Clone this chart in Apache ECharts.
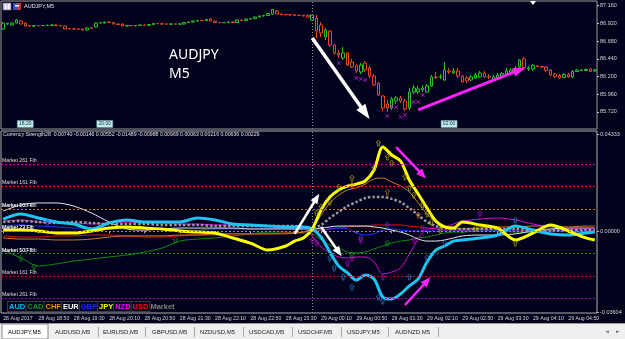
<!DOCTYPE html>
<html><head><meta charset="utf-8">
<script src="https://cdn.jsdelivr.net/npm/echarts@6/dist/echarts.min.js"></script>
<style>html,body{margin:0;padding:0;background:#02021c;}#c{width:625px;height:339px;}</style>
</head><body><div id="c"></div>
<script>
// ---------- DATA ----------
// AUDJPY M5 candles [open, close, low, high], first bar 28 Aug 18:10
const candles = [
[86.844,86.925,86.831,86.939],[86.912,86.919,86.898,86.925],[86.898,86.925,86.891,86.932],[86.925,86.966,86.919,86.980],
[86.952,86.912,86.905,86.966],[86.925,86.885,86.878,86.932],[86.891,86.885,86.878,86.898],[86.885,86.891,86.871,86.898],
[86.891,86.889,86.885,86.898],[86.889,86.891,86.885,86.898],[86.891,86.895,86.885,86.905],[86.895,86.898,86.891,86.905],
[86.898,86.891,86.885,86.905],[86.891,86.889,86.878,86.898],[86.885,86.844,86.837,86.891],[86.851,86.848,86.837,86.858],
[86.848,86.844,86.837,86.851],[86.844,86.842,86.831,86.851],[86.842,86.831,86.824,86.848],[86.831,86.858,86.824,86.865],
[86.858,86.851,86.844,86.865],[86.871,86.925,86.864,86.932],[86.925,86.932,86.919,86.939],[86.925,86.939,86.919,86.946],
[86.939,86.932,86.925,86.946],[86.932,86.912,86.905,86.939],[86.912,86.905,86.898,86.919],[86.912,86.885,86.878,86.919],
[86.885,86.891,86.878,86.898],[86.891,86.889,86.885,86.898],[86.889,86.891,86.878,86.898],[86.891,86.898,86.885,86.905],
[86.898,86.895,86.891,86.905],[86.895,86.905,86.891,86.912],[86.905,86.919,86.898,86.925],[86.919,86.915,86.912,86.925],
[86.915,86.912,86.905,86.919],[86.912,86.910,86.905,86.919],[86.910,86.912,86.905,86.919],[86.912,86.910,86.905,86.919],
[86.910,86.912,86.905,86.919],[86.912,86.932,86.905,86.939],[86.932,86.939,86.925,86.946],[86.939,86.952,86.932,86.959],
[86.952,86.959,86.946,86.966],[86.959,86.957,86.952,86.966],[86.957,86.973,86.952,86.980],[86.980,86.952,86.946,86.986],
[86.952,86.932,86.925,86.959],[86.932,86.930,86.925,86.939],[86.930,86.932,86.925,86.939],[86.932,86.939,86.925,86.946],
[86.939,86.932,86.925,86.946],[86.932,86.966,86.925,86.973],[86.966,86.959,86.952,86.973],[86.959,86.980,86.952,86.986],
[86.980,86.984,86.973,86.993],[86.984,87.007,86.980,87.013],[87.007,87.020,87.000,87.027],[87.020,87.027,87.013,87.034],
[87.027,87.054,87.020,87.061],[87.047,87.108,87.041,87.115],[87.088,87.047,87.041,87.102],[87.047,87.041,87.034,87.054],
[87.041,87.038,87.030,87.047],[87.038,87.036,87.030,87.047],[87.038,87.030,87.020,87.041],[87.030,87.028,87.020,87.038],
[87.030,87.020,87.013,87.034],[87.030,87.007,87.000,87.034],[86.966,87.034,86.959,87.041],
[86.993,86.817,86.722,87.034],[86.898,86.790,86.736,86.939],[86.736,86.831,86.695,86.858],[86.817,86.627,86.600,86.831],
[86.627,86.519,86.492,86.641],[86.519,86.492,86.451,86.560],[86.451,86.519,86.424,86.600],[86.519,86.356,86.343,86.532],
[86.397,86.329,86.316,86.438],[86.343,86.275,86.248,86.370],[86.261,86.356,86.234,86.383],[86.383,86.289,86.261,86.410],
[86.316,86.207,86.180,86.343],[86.207,86.085,86.072,86.234],[86.112,85.950,85.936,86.126],[85.936,85.774,85.733,85.950],
[85.828,85.774,85.720,85.882],[85.774,85.896,85.747,85.923],[85.868,85.909,85.828,85.936],[85.909,85.868,85.841,85.936],
[85.868,85.760,85.733,85.896],[85.774,85.990,85.747,86.045],[85.990,86.045,85.963,86.085],[85.990,86.031,85.963,86.072],
[86.018,86.045,85.990,86.085],[85.990,86.072,85.977,86.099],[86.072,86.194,86.058,86.221],[86.194,86.187,86.166,86.261],
[86.194,86.200,86.166,86.234],[86.153,86.289,86.139,86.397],[86.275,86.261,86.234,86.316],[86.248,86.275,86.234,86.316],
[86.275,86.207,86.180,86.316],[86.207,86.126,86.112,86.221],[86.180,86.139,86.112,86.207],[86.153,86.194,86.139,86.221],
[86.180,86.221,86.166,86.248],[86.194,86.248,86.180,86.275],[86.248,86.194,86.180,86.275],[86.200,86.194,86.166,86.234],
[86.153,86.194,86.139,86.221],[86.180,86.221,86.166,86.248],[86.207,86.241,86.194,86.261],[86.234,86.275,86.221,86.316],
[86.261,86.289,86.248,86.316],[86.275,86.316,86.261,86.343],[86.329,86.424,86.316,86.438],[86.438,86.316,86.289,86.465],
[86.302,86.316,86.275,86.343],[86.302,86.350,86.275,86.370],[86.343,86.336,86.329,86.356],[86.336,86.329,86.316,86.343],
[86.329,86.282,86.261,86.343],[86.289,86.221,86.207,86.302],[86.234,86.200,86.180,86.248],[86.214,86.180,86.166,86.234],
[86.187,86.228,86.180,86.248],[86.228,86.194,86.180,86.248],[86.194,86.268,86.180,86.289],[86.268,86.289,86.261,86.302],
[86.282,86.289,86.275,86.302],[86.282,86.295,86.275,86.309],[86.302,86.268,86.261,86.316],[86.275,86.289,86.268,86.302]
];
const firstBarMinutes = 18 * 60 + 10;
const barTimes = candles.map((c, i) => {
  const m = (firstBarMinutes + 5 * i) % 1440;
  return String(Math.floor(m / 60)).padStart(2, '0') + ':' + String(m % 60).padStart(2, '0');
});
const tickLabels = ['28 Aug 2017','28 Aug 18:50','28 Aug 19:30','28 Aug 20:10','28 Aug 20:50','28 Aug 21:30','28 Aug 22:10','28 Aug 22:50','28 Aug 23:30','29 Aug 00:10','29 Aug 00:50','29 Aug 01:30','29 Aug 02:10','29 Aug 02:50','29 Aug 03:30','29 Aug 04:10','29 Aug 04:50'];
const priceTicks = [87.160, 86.920, 86.680, 86.440, 86.200, 85.960, 85.720];
const strengthTicks = [0.04333, 0, -0.03604];
const dayBreakBar = 70;

// magenta signal crosses on the price pane
const signalBars = [76,80,81,82,87,88,89,90,91,92,93,94,95];
const signalPrices = [86.383,86.180,86.166,86.153,85.665,85.801,85.787,85.652,85.679,85.923,85.855,85.855,85.950];

// currency strength, sampled at these bars
const lineBars = [0,4,8,12,16,20,24,28,32,36,40,44,48,52,56,60,64,66,68,70,72,74,76,78,80,82,84,86,88,90,92,94,96,98,100,102,104,108,112,116,120,124,128,132,134];
const AUD = [0.0054,0.0077,0.0059,0.0041,0.0032,0.0010,0.0037,0.0050,0.0041,0.0041,0.0041,0.0059,0.0050,0.0032,0.0028,0.0023,0.0019,0.0019,0.0019,0.0010,-0.0026,-0.0093,-0.0155,-0.0186,-0.0218,-0.0195,-0.0213,-0.0294,-0.0302,-0.0280,-0.0244,-0.0213,-0.0137,-0.0084,-0.0066,-0.0044,-0.0039,-0.0030,-0.0017,0.0023,0.0005,-0.0012,-0.0017,-0.0008,-0.0004];
const CAD = [-0.0084,-0.0119,-0.0155,-0.0146,-0.0133,-0.0124,-0.0115,-0.0106,-0.0093,-0.0075,-0.0044,-0.0035,-0.0030,-0.0021,-0.0012,-0.0004,-0.0004,-0.0008,-0.0008,-0.0012,-0.0039,-0.0062,-0.0075,-0.0093,-0.0097,-0.0093,-0.0079,-0.0066,-0.0053,-0.0044,-0.0039,-0.0030,-0.0026,-0.0017,-0.0008,-0.0004,-0.0004,0.0001,0.0001,-0.0004,-0.0004,0.0001,0.0001,-0.0004,-0.0004];
const CHF = [-0.0030,-0.0035,-0.0035,-0.0039,-0.0039,-0.0035,-0.0026,-0.0021,-0.0021,-0.0021,-0.0017,-0.0017,-0.0012,-0.0012,-0.0012,-0.0012,-0.0012,-0.0008,-0.0004,0.0014,0.0072,0.0126,0.0161,0.0184,0.0193,0.0210,0.0233,0.0237,0.0219,0.0202,0.0175,0.0126,0.0077,0.0041,0.0023,0.0014,0.0010,0.0014,0.0019,0.0019,0.0023,0.0023,0.0019,0.0023,0.0023];
const EUR = [0.0090,0.0117,0.0126,0.0126,0.0112,0.0081,0.0041,0.0010,0.0005,0.0010,0.0014,0.0014,0.0014,0.0014,0.0010,0.0010,0.0010,0.0010,0.0010,0.0010,0.0014,0.0019,0.0023,0.0023,0.0023,0.0023,0.0019,0.0014,0.0005,-0.0004,-0.0017,-0.0035,-0.0044,-0.0044,-0.0039,-0.0030,-0.0021,-0.0017,-0.0017,-0.0012,0.0001,0.0010,0.0014,0.0014,0.0014];
const GBP = [0.0023,0.0028,0.0023,0.0019,0.0014,0.0014,0.0010,0.0010,0.0014,0.0010,0.0005,0.0005,0.0010,0.0010,0.0010,0.0010,0.0010,0.0010,0.0010,0.0010,0.0005,0.0010,0.0014,0.0010,-0.0008,-0.0017,-0.0012,0.0005,0.0010,0.0005,0.0001,0.0001,0.0001,0.0001,0.0001,0.0001,0.0005,0.0005,0.0005,0.0001,0.0001,0.0001,0.0005,0.0005,0.0005];
const JPY = [0.0005,0.0005,0.0001,-0.0008,-0.0008,0.0001,0.0014,0.0019,0.0014,0.0010,0.0001,-0.0004,-0.0008,-0.0030,-0.0053,-0.0084,-0.0066,-0.0044,-0.0030,0.0010,0.0095,0.0152,0.0184,0.0201,0.0210,0.0224,0.0273,0.0375,0.0340,0.0313,0.0228,0.0166,0.0103,0.0045,0.0019,0.0014,0.0041,0.0028,0.0014,-0.0039,-0.0008,0.0028,0.0001,-0.0030,-0.0039];
const NZD = [0.0045,0.0050,0.0041,0.0037,0.0037,0.0032,0.0037,0.0041,0.0037,0.0037,0.0032,0.0032,0.0028,0.0028,0.0023,0.0023,0.0023,0.0019,0.0014,-0.0021,-0.0070,-0.0097,-0.0115,-0.0119,-0.0115,-0.0115,-0.0137,-0.0191,-0.0182,-0.0164,-0.0102,-0.0035,0.0010,0.0014,0.0019,0.0032,0.0045,0.0054,0.0059,0.0050,0.0032,0.0019,0.0014,0.0014,0.0014];
const USD = [-0.0021,-0.0026,-0.0026,-0.0021,-0.0021,-0.0017,-0.0017,-0.0021,-0.0026,-0.0026,-0.0021,-0.0017,-0.0017,-0.0012,-0.0012,-0.0012,-0.0008,-0.0008,-0.0004,0.0001,0.0005,0.0010,0.0014,0.0019,0.0023,0.0023,0.0028,0.0028,0.0028,0.0028,0.0023,0.0019,0.0014,0.0010,0.0005,0.0005,0.0005,0.0010,0.0010,0.0005,0.0001,0.0005,0.0010,0.0010,0.0010];
const MARKET = [0.0041,0.0046,0.0041,0.0037,0.0041,0.0037,0.0032,0.0032,0.0032,0.0028,0.0028,0.0028,0.0023,0.0023,0.0023,0.0023,0.0023,0.0023,0.0019,0.0014,0.0028,0.0059,0.0086,0.0112,0.0130,0.0148,0.0153,0.0153,0.0144,0.0130,0.0103,0.0072,0.0041,0.0023,0.0014,0.0010,0.0010,0.0010,0.0010,0.0010,0.0005,0.0005,0.0005,0.0005,0.0005];

// indicator arrow signals [bar, strength]
const jpyArrows = [[71,0.0081],[72,0.0108],[74,0.0130],[76,0.0197],[79,0.0237],[84,0.0282],[85,0.0393],[87,0.0331],[88,0.0304],[91,0.0242],[92,0.0193],[93,0.0161],[95,0.0117],[96,0.0077],[97,0.0041],[99,0.0005],[107,0.0014],[116,-0.0053]];
const audArrows = [[74,-0.0120],[75,-0.0164],[77,-0.0204],[79,-0.0249],[85,-0.0294],[86,-0.0311],[92,-0.0204],[96,-0.0120],[100,-0.0053],[116,0.0050]];
const nzdArrows = [[70,-0.0039],[71,-0.0053],[78,-0.0142],[79,-0.0120],[81,-0.0039],[86,-0.0204],[93,-0.0039],[95,0.0014],[108,0.0081]];
const chfArrows = [[79,0.0206],[87,0.0175],[94,0.0072]];
const cadArrows = [[4,-0.0120],[7,-0.0160],[39,-0.0039],[79,-0.0106],[87,-0.0053]];
const gbpArrows = [[10,0.0041],[81,-0.0030],[87,0.0028]];

// fib levels of the strength pane
const fibNames = ['Market 261 Fib','Market 161 Fib','Market 100 Fib','Market 50 Fib','Market 23 Fib','Market 23 Fib','Market 50 Fib','Market 100 Fib','Market 161 Fib','Market 261 Fib'];
const fibValues = [0.0270,0.0167,0.0103,0.0052,0.0024,-0.0024,-0.0052,-0.0103,-0.0167,-0.0270];

const strengthText = 'Currency Strength28  0.00740 -0.00146 0.00552 -0.01489 -0.00988 0.00969 0.00063 0.00216 0.00636 0.00229';
const tabNames = ['AUDJPY,M5','AUDUSD,M5','EURUSD,M5','GBPUSD,M5','NZDUSD,M5','USDCAD,M5','USDCHF,M5','USDJPY,M5','AUDNZD,M5'];

// ---------- STYLE ----------
const FONT = 'Liberation Sans';
const fibColors = ['#c800c8','#e01818','#20a020','#c87820','#a06a30','#c88020','#a05a14','#1a9a1a','#b01010','#9010b0'];
const UP_PATH = 'path://M5,0 L10,5 L7,5 L7,11 L3,11 L3,5 L0,5 Z';
const X_PATH = 'path://M1,0 L5,4 L9,0 L10,1 L6,5 L10,9 L9,10 L5,6 L1,10 L0,9 L4,5 L0,1 Z';

const chart = echarts.init(document.getElementById('c'), null, {renderer: 'canvas', width: 625, height: 339});

function strengthLine(name, values, color, width, extra) {
  return Object.assign({
    type: 'line', name, xAxisIndex: 1, yAxisIndex: 1,
    data: lineBars.map((b, k) => [b, values[k]]),
    showSymbol: false, smooth: 0.3, silent: true, clip: true,
    lineStyle: {color, width}, emphasis: {disabled: true}
  }, extra || {});
}
function arrowMarks(name, pts, color, extra) {
  return Object.assign({
    type: 'scatter', name, xAxisIndex: 1, yAxisIndex: 1, data: pts,
    symbol: UP_PATH, symbolSize: [4.5, 6], silent: true, z: 5,
    itemStyle: {color: 'transparent', borderColor: color, borderWidth: 0.8}
  }, extra || {});
}

const tabX = [8, 55, 103, 152, 200, 249, 298, 347, 395];
const sepX = [98, 145, 194, 243, 292, 341, 388, 438];

const graphic = [
  {type: 'rect', shape: {x: 0, y: 323, width: 625, height: 16}, style: {fill: '#efefef'}, silent: true},
  {type: 'line', shape: {x1: 0, y1: 323.5, x2: 625, y2: 323.5}, style: {stroke: '#9a9a9a', lineWidth: 1}, silent: true},
  {type: 'rect', shape: {x: 2, y: 324, width: 46, height: 15}, style: {fill: '#ffffff', stroke: '#8a8a8a', lineWidth: 1}, silent: true},
  ...tabNames.map((t, i) => ({type: 'text', x: tabX[i], y: 332, silent: true,
    style: {text: t, fill: i === 0 ? '#000000' : '#202020', fontSize: 6, fontFamily: FONT, verticalAlign: 'middle', align: 'left'}})),
  ...sepX.map(x => ({type: 'line', shape: {x1: x + 0.5, y1: 327, x2: x + 0.5, y2: 337}, style: {stroke: '#a8a8a8', lineWidth: 1}, silent: true})),
  {type: 'text', x: 605, y: 332, silent: true, style: {text: '◄', fill: '#707070', fontSize: 5, fontFamily: 'DejaVu Sans', verticalAlign: 'middle'}},
  {type: 'text', x: 616, y: 332, silent: true, style: {text: '►', fill: '#707070', fontSize: 5, fontFamily: 'DejaVu Sans', verticalAlign: 'middle'}},
  // window icons
  {type: 'rect', shape: {x: 3, y: 3, width: 8, height: 7}, style: {fill: '#d6c8e6', stroke: '#7a7aa8', lineWidth: 0.6}, silent: true},
  {type: 'rect', shape: {x: 5, y: 5, width: 1.5, height: 4}, style: {fill: '#ffffff'}, silent: true},
  {type: 'rect', shape: {x: 8, y: 4, width: 1.5, height: 5}, style: {fill: '#ffffff'}, silent: true},
  {type: 'rect', shape: {x: 13, y: 3, width: 4, height: 7}, style: {fill: '#3050d0'}, silent: true},
  {type: 'rect', shape: {x: 17, y: 3, width: 4, height: 7}, style: {fill: '#d03030'}, silent: true},
  {type: 'rect', shape: {x: 15, y: 5, width: 4, height: 1.5}, style: {fill: '#ffffff'}, silent: true}
];

const richLegend = {};
const legendItems = [['a','AUD','#00bfff'],['b','CAD','#109a10'],['c','CHF','#ff8a00'],['d','EUR','#ffffff'],['e','GBP','#1a2cff'],['f','JPY','#ffff00'],['g','NZD','#ff00ff'],['h','USD','#ff1010']];
legendItems.forEach(([k, , c]) => {
  richLegend[k] = {color: c, fontSize: 7.5, fontFamily: FONT, borderColor: '#3a3a4a', borderWidth: 1, padding: [1, 1, 0, 1], backgroundColor: '#04041e'};
});
richLegend.m = {color: '#808080', fontSize: 7.5, fontFamily: FONT, padding: [1, 1, 0, 1]};
const legendText = legendItems.map(([k, t]) => '{' + k + '|' + t + '}').join('') + '{m|Market}';

const option = {
  backgroundColor: '#02021c',
  animation: false,
  textStyle: {fontFamily: FONT},
  title: [
    {text: 'AUDJPY,M5', left: 24, top: 3, padding: 0, textStyle: {color: '#e6e6e6', fontSize: 5.5, fontWeight: 'normal', fontFamily: FONT}},
    {text: 'AUDJPY', left: 169, top: 48, padding: 0, textStyle: {color: '#ffffff', fontSize: 14, fontWeight: 'normal', fontFamily: 'Noto Sans'}},
    {text: 'M5', left: 169, top: 67, padding: 0, textStyle: {color: '#ffffff', fontSize: 14, fontWeight: 'normal', fontFamily: 'Noto Sans'}},
    {text: strengthText, left: 3, top: 132, padding: 0, textStyle: {color: '#e0e0e0', fontSize: 5.2, fontWeight: 'normal', fontFamily: FONT}},
    {text: legendText, left: 8, top: 302, padding: 0, textStyle: {rich: richLegend}}
  ],
  grid: [
    {left: 1, right: 28, top: 1, height: 128, show: true, borderColor: '#9a9a9a', borderWidth: 1, backgroundColor: 'transparent'},
    {left: 1, right: 28, top: 131, height: 182, show: true, borderColor: '#b0b0b0', borderWidth: 1, backgroundColor: 'transparent'}
  ],
  xAxis: [
    {type: 'category', gridIndex: 0, data: barTimes, boundaryGap: true, axisLine: {show: false}, axisTick: {show: false}, axisLabel: {show: false}, splitLine: {show: false}},
    {type: 'category', gridIndex: 1, data: barTimes, boundaryGap: true, axisLine: {show: false},
      axisTick: {show: true, interval: (i) => i % 8 === 0, alignWithLabel: true, length: 2, lineStyle: {color: '#c0c0c0'}},
      axisLabel: {show: true, interval: (i) => i % 8 === 0, formatter: (v, i) => tickLabels[i / 8] || '', align: 'left', margin: 3,
        color: '#d4d4d4', fontSize: 5.2, fontFamily: FONT, hideOverlap: false}, splitLine: {show: false}}
  ],
  yAxis: [
    {type: 'value', gridIndex: 0, position: 'right', min: 85.489, max: 87.2235, scale: true, splitLine: {show: false}, axisLine: {show: false},
      axisTick: {show: true, customValues: priceTicks, length: 2, lineStyle: {color: '#c0c0c0'}},
      axisLabel: {customValues: priceTicks, formatter: v => v.toFixed(3), color: '#d4d4d4', fontSize: 5.5, fontFamily: FONT, margin: 3}},
    {type: 'value', gridIndex: 1, position: 'right', min: -0.03647, max: 0.04468, splitLine: {show: false}, axisLine: {show: false},
      axisTick: {show: true, customValues: strengthTicks, length: 2, lineStyle: {color: '#c0c0c0'}},
      axisLabel: {customValues: strengthTicks, formatter: v => v.toFixed(5), color: '#d4d4d4', fontSize: 5.5, fontFamily: FONT, margin: 3}}
  ],
  graphic,
  series: [
    {
      type: 'candlestick', name: 'AUDJPY', xAxisIndex: 0, yAxisIndex: 0, data: candles, barWidth: 3, silent: true,
      itemStyle: {color: 'transparent', color0: 'transparent', borderColor: '#22c422', borderColor0: '#e8461e', borderWidth: 1},
      markLine: {silent: true, animation: false, symbol: 'none', label: {show: false},
        lineStyle: {color: '#8c8c8c', type: [1, 2], width: 1}, data: [{xAxis: dayBreakBar}]},
      markPoint: {silent: true, animation: false, data: [
        ...[[5, '18:20'], [23, '20:00'], [101, '02:00']].map(([b, t]) => ({name: t, coord: [b, 85.557], symbol: 'rect', symbolSize: [16, 7],
          itemStyle: {color: '#c6eef2', borderColor: '#6aa0a8', borderWidth: 0.5},
          label: {show: true, position: 'inside', formatter: '{b}', color: '#0a2a30', fontSize: 5, fontFamily: FONT}})),
        {name: 'shift', coord: [120, 87.196], symbol: 'triangle', symbolRotate: 180, symbolSize: [6, 4], itemStyle: {color: '#ffffff'}, label: {show: false}}
      ]}
    },
    {
      type: 'scatter', name: 'signals', xAxisIndex: 0, yAxisIndex: 0, silent: true, z: 4,
      data: signalBars.map((b, i) => [b, signalPrices[i]]), symbol: X_PATH, symbolSize: 4, itemStyle: {color: '#ff22ff'},
      markLine: {silent: true, animation: false, symbol: ['none', 'triangle'], label: {show: false}, data: [
        [{coord: [70, 86.722], lineStyle: {color: '#ffffff', width: 3.5, type: 'solid'}}, {coord: [82, 85.706], symbolSize: [11, 15]}],
        [{coord: [94, 85.747], lineStyle: {color: '#ff22ff', width: 3, type: 'solid'}}, {coord: [117, 86.289], symbolSize: [9, 13]}]
      ]}
    },
    strengthLine('CAD', CAD, '#108a10', 1),
    strengthLine('USD', USD, '#e01010', 1),
    strengthLine('GBP', GBP, '#2036ff', 1),
    strengthLine('EUR', EUR, '#e6e6e6', 1),
    strengthLine('NZD', NZD, '#d010d0', 1),
    strengthLine('CHF', CHF, '#d07a22', 1),
    strengthLine('Market', MARKET, '#9a9a9a', 2.5, {
      lineStyle: {color: '#9a9a9a', width: 2.5, type: [2.5, 2]},
      markLine: {silent: true, animation: false, symbol: 'none', data: [
        {xAxis: dayBreakBar, lineStyle: {color: '#8c8c8c', type: [1, 2], width: 1}, label: {show: false}},
        ...fibValues.map((v, i) => ({yAxis: v, name: fibNames[i],
          lineStyle: {color: fibColors[i], type: [2, 2], width: 1},
          label: {show: true, position: 'insideStartTop', formatter: '{b}', color: '#dcdcdc', fontSize: 5.2, fontFamily: FONT, distance: [1, 1]}}))
      ]}
    }),
    strengthLine('AUD', AUD, '#1ec4f4', 3),
    strengthLine('JPY', JPY, '#ffff00', 3),
    arrowMarks('CAD signals', cadArrows, '#1a9a1a'),
    arrowMarks('GBP signals', gbpArrows, '#3050ff'),
    arrowMarks('CHF signals', chfArrows, '#c87020'),
    arrowMarks('NZD signals', nzdArrows, '#d000d0'),
    arrowMarks('AUD signals', audArrows, '#2a8ccc'),
    arrowMarks('JPY signals', jpyArrows, '#b4b400', {
      markLine: {silent: true, animation: false, symbol: ['none', 'triangle'], label: {show: false}, data: [
        [{coord: [66, -0.0012], lineStyle: {color: '#ffffff', width: 2.5, type: 'solid'}}, {coord: [71, 0.0148], symbolSize: [8, 10]}],
        [{coord: [72, 0.0019], lineStyle: {color: '#ffffff', width: 2.5, type: 'solid'}}, {coord: [76, -0.0093], symbolSize: [8, 10]}],
        [{coord: [89, 0.0375], lineStyle: {color: '#ff22ff', width: 2.5, type: 'solid'}}, {coord: [95, 0.0251], symbolSize: [8, 10]}],
        [{coord: [91, -0.0329], lineStyle: {color: '#ff22ff', width: 2.5, type: 'solid'}}, {coord: [96, -0.0222], symbolSize: [8, 10]}]
      ]}
    })
  ]
};
chart.setOption(option);
</script>
</body></html>
